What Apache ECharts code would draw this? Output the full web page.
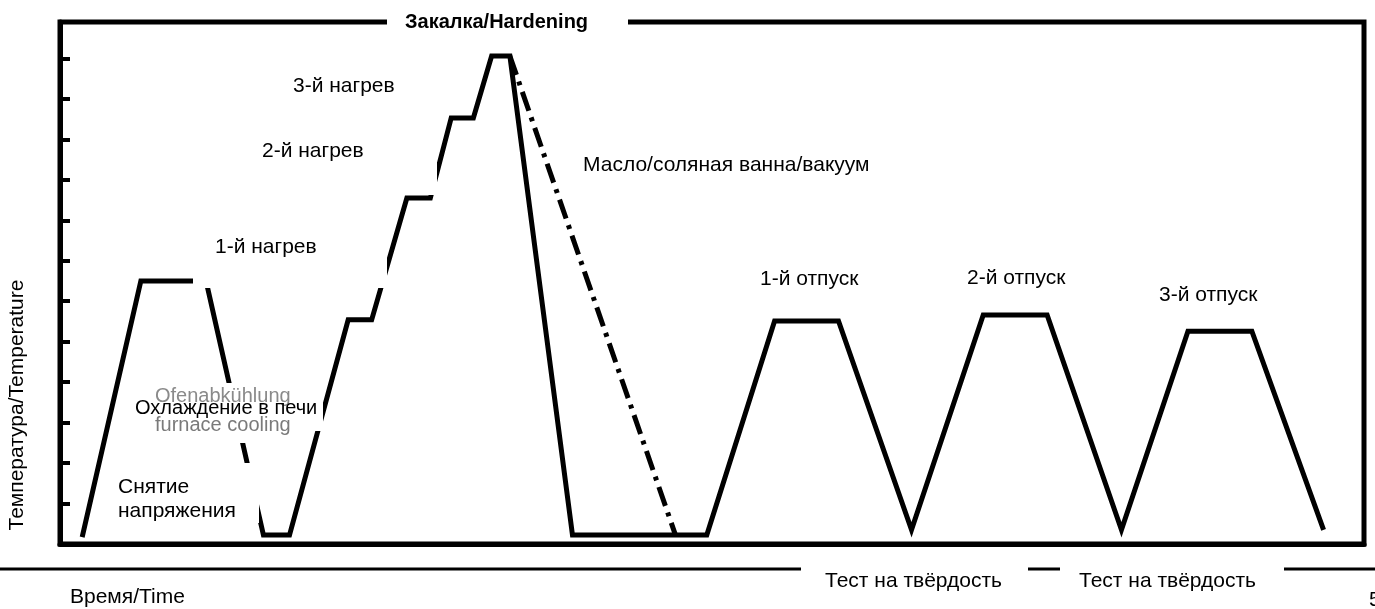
<!DOCTYPE html>
<html>
<head>
<meta charset="utf-8">
<script src="https://cdn.jsdelivr.net/npm/echarts@6/dist/echarts.min.js"></script>
<style>
html,body{margin:0;padding:0;background:#fff;}
#chart{width:1375px;height:609px;}
</style>
</head>
<body>
<div id="chart"></div>
<script>
// Time (arbitrary units, 0..100) and temperature (arbitrary units) of the process curve
const timeMain = [1.7, 6.2, 11.2, 15.6, 17.6, 22.1, 23.9, 26.6, 28.4, 30.0, 31.7, 33.1, 34.5, 39.3, 49.6, 54.8, 59.7, 65.3, 70.8, 75.7, 81.4, 86.5, 91.4, 96.9];
const tempMain = [17, 650, 650, 22, 22, 554, 554, 855, 855, 1053, 1053, 1206, 1206, 22, 22, 551, 551, 35, 566, 566, 35, 526, 526, 35];
// Slower quench (oil / salt bath / vacuum), dash-dot
const timeQuench = [34.5, 47.2];
const tempQuench = [1206, 22];

const FONT = "'Liberation Sans', Arial, Helvetica, sans-serif";

const mainData = timeMain.map((t, i) => [t, tempMain[i]]);
const quenchData = timeQuench.map((t, i) => [t, tempQuench[i]]);

function box(x, y, w, h) {
  return { type: 'rect', z: 50, shape: { x: x, y: y, width: w, height: h }, style: { fill: '#ffffff' } };
}
function txt(text, x, y, opts) {
  opts = opts || {};
  return {
    type: 'text', z: 60, x: x, y: y, rotation: opts.rotation || 0,
    style: {
      text: text, fill: opts.color || '#000',
      font: (opts.bold ? 'bold ' : '') + (opts.size || 21) + 'px ' + FONT,
      textAlign: opts.align || 'left', textVerticalAlign: 'middle'
    }
  };
}

const chart = echarts.init(document.getElementById('chart'), null, { renderer: 'canvas' });
chart.setOption({
  animation: false,
  backgroundColor: '#fff',
  grid: { left: 60, top: 22, right: 11, bottom: 65, show: true, borderColor: '#000', borderWidth: 5, backgroundColor: 'transparent' },
  xAxis: {
    type: 'value', min: 0, max: 100,
    axisLine: { show: true, lineStyle: { color: '#000', width: 5 } },
    axisTick: { show: false }, axisLabel: { show: false }, splitLine: { show: false }
  },
  yAxis: {
    type: 'value', min: 0, max: 1290, interval: 100,
    axisLine: { show: true, lineStyle: { color: '#000', width: 5 } },
    axisTick: { show: true, inside: true, length: 10, lineStyle: { color: '#000', width: 4 } },
    axisLabel: { show: false }, splitLine: { show: false }
  },
  series: [
    {
      type: 'line', data: mainData, symbol: 'none', silent: true, z: 3,
      lineStyle: { color: '#000', width: 5, join: 'miter', miterLimit: 6 }
    },
    {
      type: 'line', data: quenchData, symbol: 'none', silent: true, z: 3,
      lineStyle: { color: '#000', width: 5, type: [20, 7, 4, 7], cap: 'butt' }
    }
  ],
  graphic: [
    // white label boxes of the translated figure
    box(387, 8, 241, 28),
    box(193, 212, 194, 76),
    box(240, 128, 197, 67),
    box(120, 383, 203, 48),
    box(225, 431, 28, 12),
    box(104, 463, 155, 60),
    // separator line under the plot
    { type: 'line', z: 40, shape: { x1: 0, y1: 569, x2: 1375, y2: 569 }, style: { stroke: '#000', lineWidth: 3 } },
    box(801, 559, 227, 22),
    box(1060, 559, 224, 22),
    // texts
    txt('Закалка/Hardening', 405, 22, { bold: true, size: 20 }),
    txt('3-й нагрев', 293, 86),
    txt('2-й нагрев', 262, 151),
    txt('1-й нагрев', 215, 247),
    txt('Масло/соляная ванна/вакуум', 583, 165),
    txt('1-й отпуск', 760, 279),
    txt('2-й отпуск', 967, 278),
    txt('3-й отпуск', 1159, 295),
    txt('Ofenabkühlung', 155, 396, { size: 20, color: '#8a8a8a' }),
    txt('furnace cooling', 155, 425, { size: 20, color: '#7a7a7a' }),
    txt('Охлаждение в печи', 135, 408, { size: 20 }),
    txt('Снятие', 118, 487),
    txt('напряжения', 118, 511),
    txt('Тест на твёрдость', 825, 581),
    txt('Тест на твёрдость', 1079, 581),
    txt('Время/Time', 70, 597),
    txt('Температура/Temperature', 17, 405, { rotation: Math.PI / 2, align: 'center' }),
    txt('5', 1369, 600)
  ]
});
</script>
</body>
</html>
